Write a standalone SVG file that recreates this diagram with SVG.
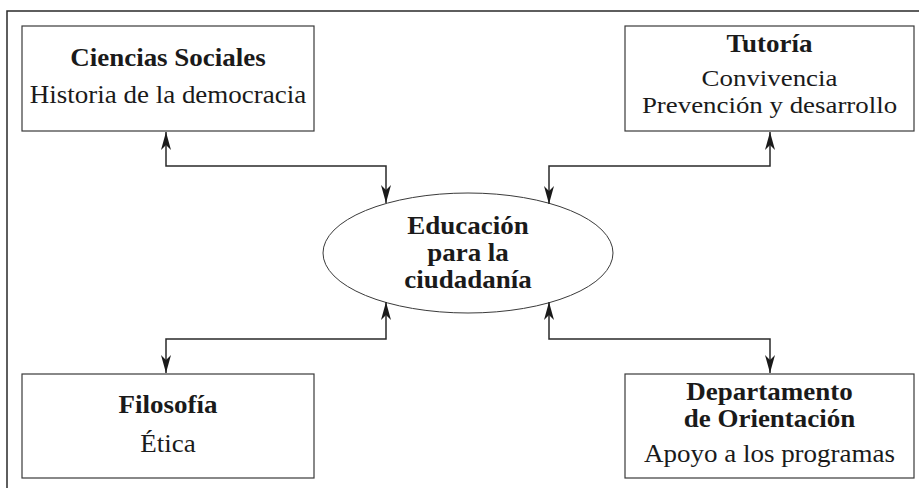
<svg xmlns="http://www.w3.org/2000/svg" width="919" height="488" viewBox="0 0 919 488">
<defs>
<marker id="ah" viewBox="0 0 18 10" refX="18" refY="5" markerWidth="18" markerHeight="10" markerUnits="userSpaceOnUse" orient="auto-start-reverse">
<path d="M0,0 L18,5 L0,10 L5,5 Z" fill="#1a1a1a"/>
</marker>
<style>
.box{fill:#fff;stroke:#3a3a3a;stroke-width:1.2}
.t{font-family:"Liberation Serif","Times New Roman",serif;font-size:25px;fill:#1a1a1a;text-anchor:middle}
.s{font-size:24px}
.b{font-weight:bold}
.c{fill:none;stroke:#2a2a2a;stroke-width:1.5;marker-start:url(#ah);marker-end:url(#ah)}
</style>
</defs>
<rect width="919" height="488" fill="#fff"/>
<path d="M7,495 L7,11 L925,11" fill="none" stroke="#2a2a2a" stroke-width="1.5"/>
<g id="n-ciencias">
<rect class="box" x="22" y="26" width="292" height="105"/>
<g transform="translate(168,0) scale(1.08,1)">
<text class="t b" x="0" y="66">Ciencias Sociales</text>
<text class="t" x="0" y="103">Historia de la democracia</text>
</g>
</g>
<g id="n-tutoria">
<rect class="box" x="625" y="26" width="289" height="105"/>
<g transform="translate(769.5,0) scale(1.08,1)">
<text class="t b" x="0" y="52">Tutoría</text>
</g>
<g transform="translate(769.5,0) scale(1.12,1)">
<text class="t s" x="0" y="86">Convivencia</text>
<text class="t s" x="0" y="113">Prevención y desarrollo</text>
</g>
</g>
<g id="n-educacion">
<ellipse cx="468" cy="253" rx="145" ry="60" fill="#fff" stroke="#3a3a3a" stroke-width="1"/>
<g transform="translate(468,0) scale(1.08,1)">
<text class="t b" x="0" y="234">Educación</text>
<text class="t b" x="0" y="261">para la</text>
<text class="t b" x="0" y="288">ciudadanía</text>
</g>
</g>
<g id="n-filosofia">
<rect class="box" x="22" y="374" width="292" height="104"/>
<g transform="translate(168,0) scale(1.08,1)">
<text class="t b" x="0" y="413">Filosofía</text>
<text class="t" x="0" y="452">Ética</text>
</g>
</g>
<g id="n-departamento">
<rect class="box" x="625" y="374" width="289" height="104"/>
<g transform="translate(769.5,0) scale(1.08,1)">
<text class="t b" x="0" y="400">Departamento</text>
<text class="t b" x="0" y="427">de Orientación</text>
<text class="t" x="0" y="462">Apoyo a los programas</text>
</g>
</g>
<g id="connectors">
<path class="c" d="M166,132 L166,166 L386,166 L386,203"/>
<path class="c" d="M770,132 L770,166 L549,166 L549,204"/>
<path class="c" d="M166,373 L166,339 L386,339 L386,302"/>
<path class="c" d="M770,373 L770,339 L549,339 L549,302"/>
</g>
</svg>
